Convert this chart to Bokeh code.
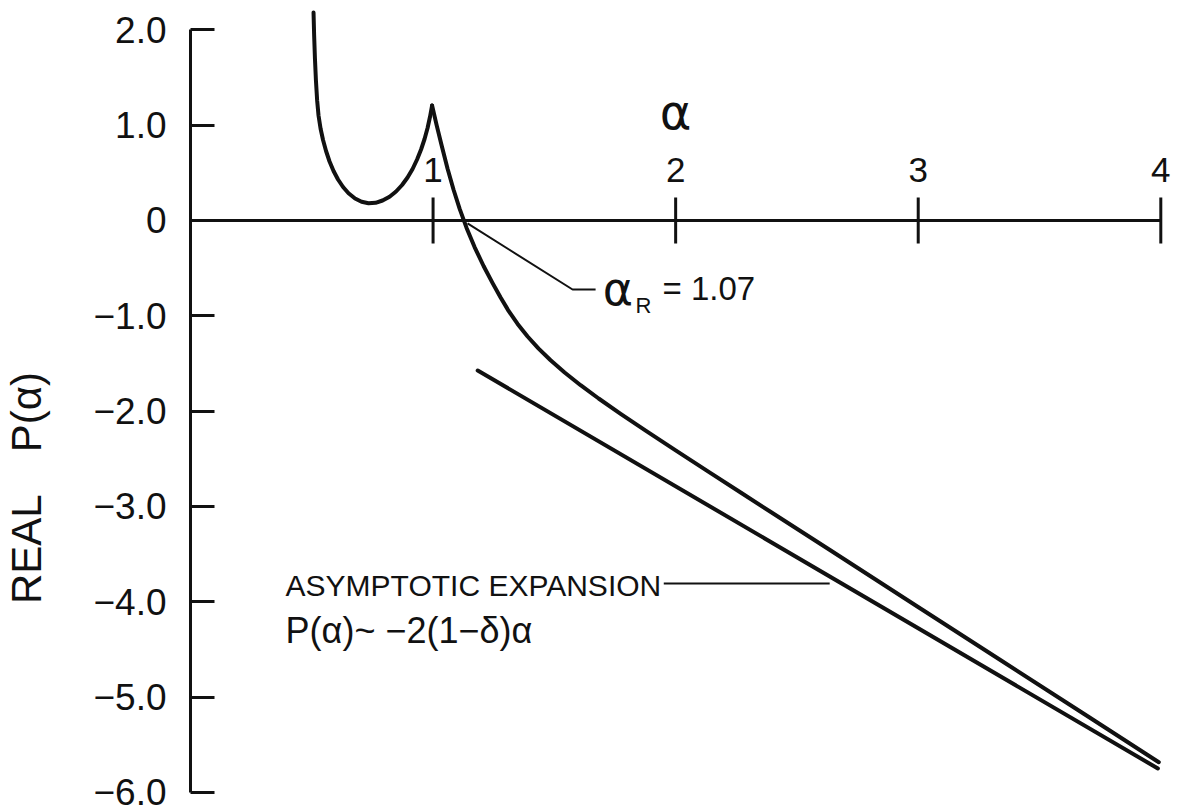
from bokeh.plotting import figure
from bokeh.models import FixedTicker, Range1d
from bokeh.core.properties import value
from bokeh.embed import file_html
from bokeh.resources import INLINE
import math

FONT = "Liberation Sans"
INK = "#111111"

# ---- data ----
# main curve, left branch (alpha, Real P)
left_alpha = [0.5072, 0.5097, 0.5130, 0.5171, 0.5221, 0.5278, 0.5361, 0.5464, 0.5588, 0.5732,
              0.5897, 0.6082, 0.6289, 0.6515, 0.6784, 0.7052, 0.7340, 0.7629, 0.7918, 0.8206,
              0.8474, 0.8722, 0.8948, 0.9155, 0.9340, 0.9505, 0.9649, 0.9773, 0.9876, 0.9959]
left_p     = [2.1826, 1.9412, 1.6999, 1.4690, 1.2592, 1.1018, 0.9654, 0.8447, 0.7293, 0.6191,
              0.5194, 0.4302, 0.3515, 0.2854, 0.2308, 0.1962, 0.1805, 0.1857, 0.2099, 0.2497,
              0.3043, 0.3725, 0.4512, 0.5404, 0.6401, 0.7450, 0.8552, 0.9706, 1.0913, 1.2067]
# main curve, right branch
right_alpha = [0.9959, 1.0144, 1.0351, 1.0598, 1.0845, 1.1093, 1.1381, 1.1711, 1.2082, 1.2454,
               1.2784, 1.3113, 1.3485, 1.3897, 1.4351, 1.4845, 1.5423, 1.6082, 1.6825, 1.7732,
               1.8763, 2.0000, 2.1443, 2.2680, 2.6392, 2.9979, 3.3402, 3.6825, 3.9918]
right_p     = [1.2067, 1.0037, 0.7886, 0.5430, 0.3227, 0.1243, -0.0777, -0.2791, -0.4774, -0.6569,
               -0.8080, -0.9486, -1.0850, -1.2172, -1.3442, -1.4669, -1.5950, -1.7282, -1.8678, -2.0283,
               -2.2046, -2.4113, -2.6506, -2.8541, -3.4633, -4.0525, -4.6139, -5.1763, -5.6842]
# asymptotic expansion line
asym_alpha = [1.184, 3.988]
asym_p     = [-1.574, -5.750]

# axes
x_ticks = [1, 2, 3, 4]
x_tick_labels = ["1", "2", "3", "4"]
x_axis_span = [0, 4]
y_ticks = [-6, -5, -4, -3, -2, -1, 0, 1, 2]
y_tick_labels = ["\u22126.0", "\u22125.0", "\u22124.0", "\u22123.0", "\u22122.0", "\u22121.0", "0", "1.0", "2.0"]

# annotations
alphaR_leader_x = [1.142, 1.575, 1.670]
alphaR_leader_y = [-0.031, -0.724, -0.724]
asym_leader_x = [1.951, 2.635]
asym_leader_y = [-3.81, -3.81]

p = figure(width=1180, height=812, output_backend="svg", toolbar_location=None,
           x_range=Range1d(0, 4.04), y_range=Range1d(-6.107, 2.256),
           x_axis_location=None, y_axis_location="left",
           min_border_left=190, min_border_right=10, min_border_top=5, min_border_bottom=10)
p.outline_line_color = None
p.xgrid.visible = False
p.ygrid.visible = False
p.background_fill_color = "white"
p.border_fill_color = "white"

# y axis (Bokeh axis)
ya = p.yaxis[0]
ya.ticker = FixedTicker(ticks=y_ticks)
ya.bounds = (min(y_ticks), max(y_ticks))
ya.major_label_overrides = {t: s for t, s in zip(y_ticks, y_tick_labels)}
ya.axis_line_width = 3
ya.axis_line_color = INK
ya.major_tick_line_width = 3
ya.major_tick_line_color = INK
ya.major_tick_in = 24
ya.major_tick_out = 0
ya.minor_tick_line_color = None
ya.major_label_standoff = 24
ya.major_label_text_font = FONT
ya.major_label_text_font_size = "37px"
ya.major_label_text_color = INK
# axis title; trailing em spaces move the visible text down to where it sits in the original
ya.axis_label = "REAL\u2003P(\u03b1)" + "\u2003" * 4
ya.axis_label_text_font = FONT
ya.axis_label_text_font_style = "normal"
ya.axis_label_text_font_size = "42px"
ya.axis_label_text_color = INK
ya.axis_label_standoff = 40

# x axis drawn at P = 0
p.line(x=x_axis_span, y=[0, 0], line_width=3, line_color=INK)
p.scatter(x=x_ticks, y=[0] * len(x_ticks), marker="dash", size=46, angle=math.pi / 2,
          line_width=3, line_color=INK)
p.text(x=x_ticks, y=[0] * len(x_ticks), text=x_tick_labels, y_offset=-50,
       text_align="center", text_baseline="middle", text_font=value(FONT),
       text_font_size="35px", text_color=INK)
p.text(x=[2], y=[0], text=["\u03b1"], y_offset=-108, text_align="center",
       text_baseline="middle", text_font=value("DejaVu Sans"), text_font_size="48px",
       text_color=INK)

# curves
p.line(x=left_alpha, y=left_p, line_width=4, line_color=INK, line_join="round", line_cap="round")
p.line(x=right_alpha, y=right_p, line_width=4, line_color=INK, line_join="round", line_cap="round")
p.line(x=asym_alpha, y=asym_p, line_width=4, line_color=INK, line_cap="round")

# alpha_R annotation
p.line(x=alphaR_leader_x, y=alphaR_leader_y, line_width=2, line_color=INK)
p.text(x=[1.699], y=[-0.724], text=["\u03b1"], text_align="left", text_baseline="middle",
       text_font=value("DejaVu Sans"), text_font_size="46px", text_color=INK)
p.text(x=[1.835], y=[-0.892], text=["R"], text_align="left", text_baseline="middle",
       text_font=value(FONT), text_font_size="22px", text_color=INK)
p.text(x=[1.946], y=[-0.713], text=["= 1.07"], text_align="left", text_baseline="middle",
       text_font=value(FONT), text_font_size="33px", text_color=INK)

# asymptotic expansion annotation
p.line(x=asym_leader_x, y=asym_leader_y, line_width=2, line_color=INK)
p.text(x=[0.392], y=[-3.835], text=["ASYMPTOTIC EXPANSION"], text_align="left",
       text_baseline="middle", text_font=value(FONT), text_font_size="30px", text_color=INK)
p.text(x=[0.392], y=[-4.302], text=["P(\u03b1)~ \u22122(1\u2212\u03b4)\u03b1"], text_align="left",
       text_baseline="middle", text_font=value(FONT), text_font_size="36px", text_color=INK)

open("out.html", "w").write(file_html(p, INLINE))
